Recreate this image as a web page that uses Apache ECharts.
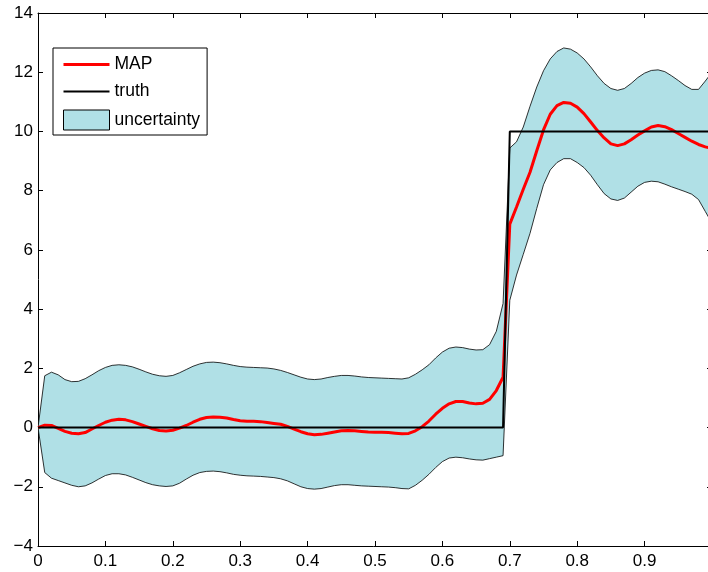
<!DOCTYPE html>
<html>
<head>
<meta charset="utf-8">
<script src="https://cdn.jsdelivr.net/npm/echarts@6/dist/echarts.min.js"></script>
<style>
html,body{margin:0;padding:0;background:#fff;overflow:hidden;}
#chart{width:708px;height:572px;}
</style>
</head>
<body>
<div id="chart"></div>
<script>
// sampling grid
const xs = [0.00,0.01,0.02,0.03,0.04,0.05,0.06,0.07,0.08,0.09,
  0.10,0.11,0.12,0.13,0.14,0.15,0.16,0.17,0.18,0.19,
  0.20,0.21,0.22,0.23,0.24,0.25,0.26,0.27,0.28,0.29,
  0.30,0.31,0.32,0.33,0.34,0.35,0.36,0.37,0.38,0.39,
  0.40,0.41,0.42,0.43,0.44,0.45,0.46,0.47,0.48,0.49,
  0.50,0.51,0.52,0.53,0.54,0.55,0.56,0.57,0.58,0.59,
  0.60,0.61,0.62,0.63,0.64,0.65,0.66,0.67,0.68,0.69,
  0.70,0.71,0.72,0.73,0.74,0.75,0.76,0.77,0.78,0.79,
  0.80,0.81,0.82,0.83,0.84,0.85,0.86,0.87,0.88,0.89,
  0.90,0.91,0.92,0.93,0.94,0.95,0.96,0.97,0.98,0.99,1.00];

const mapValues = [0,0.08,0.07,-0.03,-0.13,-0.19,-0.21,-0.17,-0.05,0.07,
  0.18,0.25,0.28,0.26,0.20,0.12,0.04,-0.04,-0.10,-0.12,
  -0.09,-0.02,0.07,0.18,0.28,0.34,0.36,0.35,0.32,0.27,
  0.23,0.21,0.21,0.20,0.17,0.14,0.11,0.04,-0.05,-0.14,
  -0.21,-0.24,-0.23,-0.19,-0.15,-0.11,-0.10,-0.11,-0.13,-0.15,
  -0.16,-0.16,-0.17,-0.19,-0.21,-0.20,-0.11,0.03,0.22,0.45,
  0.65,0.80,0.88,0.88,0.83,0.80,0.82,0.95,1.25,1.70,
  6.87,7.45,8.05,8.62,9.35,10.05,10.58,10.87,10.98,10.95,
  10.82,10.60,10.32,10.03,9.78,9.58,9.52,9.58,9.72,9.88,
  10.02,10.15,10.20,10.16,10.06,9.93,9.80,9.67,9.56,9.48,9.42];

const upperValues = [0,1.75,1.87,1.78,1.62,1.55,1.56,1.65,1.78,1.92,
  2.03,2.10,2.12,2.10,2.05,1.97,1.88,1.80,1.75,1.73,
  1.76,1.85,1.96,2.07,2.15,2.20,2.21,2.19,2.15,2.10,
  2.06,2.04,2.03,2.02,2.01,1.98,1.93,1.86,1.78,1.70,
  1.64,1.62,1.64,1.69,1.73,1.76,1.76,1.74,1.71,1.69,
  1.68,1.67,1.66,1.65,1.64,1.68,1.80,1.95,2.12,2.35,
  2.55,2.68,2.72,2.70,2.65,2.62,2.63,2.80,3.25,4.19,
  9.44,9.65,10.15,10.85,11.50,12.05,12.45,12.70,12.82,12.78,
  12.65,12.45,12.18,11.88,11.62,11.45,11.39,11.45,11.62,11.82,
  11.97,12.06,12.08,12.02,11.88,11.72,11.55,11.42,11.42,11.70,12.00];

const lowerValues = [0,-1.52,-1.71,-1.79,-1.87,-1.95,-2.00,-1.97,-1.87,-1.74,
  -1.62,-1.56,-1.56,-1.60,-1.68,-1.77,-1.86,-1.93,-1.97,-1.99,
  -1.97,-1.88,-1.74,-1.61,-1.52,-1.48,-1.47,-1.49,-1.53,-1.58,
  -1.61,-1.63,-1.64,-1.65,-1.67,-1.69,-1.73,-1.80,-1.90,-2.00,
  -2.06,-2.08,-2.06,-2.01,-1.96,-1.93,-1.93,-1.95,-1.97,-1.98,
  -1.99,-2.00,-2.01,-2.03,-2.06,-2.07,-1.95,-1.78,-1.58,-1.35,
  -1.15,-1.03,-1.00,-1.02,-1.06,-1.09,-1.10,-1.05,-1.00,-0.95,
  4.30,5.15,5.85,6.56,7.40,8.20,8.70,8.95,9.08,9.08,
  8.95,8.78,8.52,8.20,7.90,7.72,7.67,7.75,7.95,8.15,
  8.28,8.32,8.30,8.22,8.13,8.05,7.97,7.88,7.70,7.30,6.90];

const truthX = [0, 0.69, 0.70, 1.0];
const truthY = [0, 0, 10, 10];

const xTicks = {min: 0, max: 1, interval: 0.1};
const yTicks = {min: -4, max: 14, interval: 2};

const FONT = '"Liberation Sans", Arial, Helvetica, sans-serif';
const BAND = '#B0E0E6';
const pair = (xArr, yArr) => xArr.map((x, i) => [x, yArr[i]]);

const chart = echarts.init(document.getElementById('chart'), null, {renderer: 'canvas'});

const axisCommon = {
  axisLine: {show: true, onZero: false, lineStyle: {color: '#000', width: 1}},
  axisTick: {show: true, inside: true, length: 5, lineStyle: {color: '#000', width: 1}},
  splitLine: {show: false}
};

function renderBand(params, api) {
  if (params.dataIndex !== 0) return null;
  const up = xs.map((x, i) => api.coord([x, upperValues[i]]));
  const lo = xs.map((x, i) => api.coord([x, lowerValues[i]]));
  const poly = up.concat(lo.slice().reverse());
  return {
    type: 'group',
    children: [
      {type: 'polygon', shape: {points: poly}, style: {fill: BAND, stroke: null}},
      {type: 'polyline', shape: {points: up}, style: {fill: null, stroke: '#000', lineWidth: 0.8}},
      {type: 'polyline', shape: {points: lo}, style: {fill: null, stroke: '#000', lineWidth: 0.8}}
    ]
  };
}

chart.setOption({
  animation: false,
  backgroundColor: '#fff',
  grid: {left: 38, top: 13, width: 674, height: 533, containLabel: false, outerBoundsMode: 'none'},
  legend: {
    left: 53, top: 48,
    orient: 'vertical',
    backgroundColor: '#fff',
    borderColor: '#000',
    borderWidth: 1,
    borderRadius: 0,
    padding: [7.5, 7, 4.5, 10],
    itemWidth: 46,
    itemHeight: 20,
    itemGap: 9,
    textStyle: {fontFamily: FONT, fontSize: 17.5, color: '#000'},
    data: [
      {name: 'MAP', icon: 'path://M0,0H46V3H0Z', itemStyle: {color: '#FF0000', borderWidth: 0}},
      {name: 'truth', icon: 'path://M0,0H46V2H0Z', itemStyle: {color: '#000', borderWidth: 0}},
      {name: 'uncertainty', icon: 'rect', itemStyle: {color: BAND, borderColor: '#000', borderWidth: 1}}
    ]
  },
  xAxis: [
    Object.assign({type: 'value', position: 'bottom'}, xTicks, axisCommon, {
      axisLabel: {show: true, margin: 7, fontFamily: FONT, fontSize: 17, color: '#000',
        formatter: v => { const r = Math.round(v * 10) / 10; return r >= 1 ? '' : String(r); }}
    }),
    Object.assign({type: 'value', position: 'top'}, xTicks, axisCommon, {axisLabel: {show: false}})
  ],
  yAxis: [
    Object.assign({type: 'value', position: 'left'}, yTicks, axisCommon, {
      axisLabel: {show: true, margin: 5, fontFamily: FONT, fontSize: 17, color: '#000',
        formatter: v => v < 0 ? '\u2212' + (-v) : String(v)}
    }),
    Object.assign({type: 'value', position: 'right'}, yTicks, axisCommon, {axisLabel: {show: false}})
  ],
  series: [
    {
      name: 'uncertainty',
      type: 'custom',
      renderItem: renderBand,
      data: [[0, 0]],
      itemStyle: {color: BAND},
      clip: true,
      silent: true,
      z: 1
    },
    {
      name: 'MAP',
      type: 'line',
      data: pair(xs, mapValues),
      symbol: 'none',
      itemStyle: {color: '#FF0000'},
      lineStyle: {color: '#FF0000', width: 3},
      z: 3
    },
    {
      name: 'truth',
      type: 'line',
      data: pair(truthX, truthY),
      symbol: 'none',
      itemStyle: {color: '#000'},
      lineStyle: {color: '#000', width: 2},
      z: 4
    }
  ]
});
</script>
</body>
</html>
